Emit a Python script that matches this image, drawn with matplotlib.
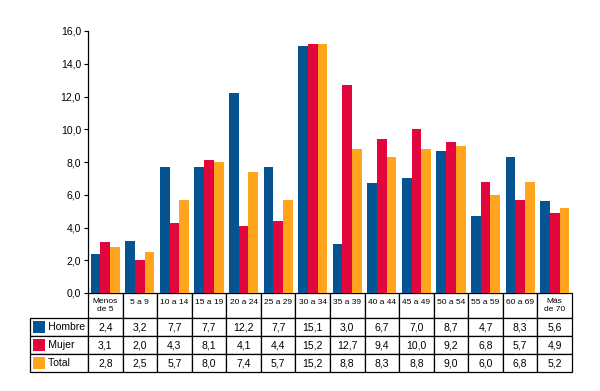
import numpy as np
import matplotlib
matplotlib.use("Agg")
import matplotlib.pyplot as plt
from matplotlib.patches import Rectangle
from matplotlib.table import Table
from matplotlib.ticker import FuncFormatter

plt.rcParams['font.family'] = ['Liberation Sans', 'DejaVu Sans']

categorias = ["Menos\nde 5", "5 a 9", "10 a 14", "15 a 19", "20 a 24", "25 a 29", "30 a 34",
              "35 a 39", "40 a 44", "45 a 49", "50 a 54", "55 a 59", "60 a 69", "Más\nde 70"]
hombre = [2.4, 3.2, 7.7, 7.7, 12.2, 7.7, 15.1, 3.0, 6.7, 7.0, 8.7, 4.7, 8.3, 5.6]
mujer = [3.1, 2.0, 4.3, 8.1, 4.1, 4.4, 15.2, 12.7, 9.4, 10.0, 9.2, 6.8, 5.7, 4.9]
total = [2.8, 2.5, 5.7, 8.0, 7.4, 5.7, 15.2, 8.8, 8.3, 8.8, 9.0, 6.0, 6.8, 5.2]

series = ["Hombre", "Mujer", "Total"]
colores = ["#045493", "#e2063c", "#ffa41c"]

fig = plt.figure(figsize=(6, 3.91), dpi=100)
ax = fig.add_axes([88/600, 1-293/391, 484/600, 262/391])

x = np.arange(len(categorias)) + 0.5
w = 0.28
for k, (vals, c) in enumerate(zip([hombre, mujer, total], colores)):
    ax.bar(x + (k-1)*w, vals, width=w, color=c, linewidth=0)

ax.set_xlim(0, len(categorias))
ax.set_ylim(0, 16)
ax.set_yticks(np.arange(0, 17, 2))
ax.yaxis.set_major_formatter(FuncFormatter(lambda v, p: f"{v:.1f}".replace(".", ",")))
ax.tick_params(axis='y', labelsize=7.5, length=3, width=0.8, pad=2)
ax.set_xticks([])
for s in ['top', 'right', 'bottom']:
    ax.spines[s].set_visible(False)
ax.spines['left'].set_linewidth(0.9)

# tabla de datos (anchos y altos en unidades de ejes)
anc_lab = 58/484
anc_col = 1/len(categorias)
alt_cab = 25/262
alt_fila = 18/262
alto_tabla = alt_cab + 3*alt_fila
tb = Table(ax, bbox=[-anc_lab, -alto_tabla, 1 + anc_lab, alto_tabla])
tb.auto_set_font_size(False)

for j, cat in enumerate(categorias):
    cell = tb.add_cell(0, j + 1, anc_col, alt_cab, text=cat, loc='center')
    t = cell.get_text()
    t.set_fontsize(6)
    t.set_linespacing(1.1)
    t.set_va('center' if "\n" in cat else 'bottom')

for i, (nombre, vals) in enumerate(zip(series, [hombre, mujer, total])):
    cell = tb.add_cell(i + 1, 0, anc_lab, alt_fila, text="      " + nombre, loc='left')
    cell.PAD = 0.02
    cell.get_text().set_fontsize(7.5)
    for j, v in enumerate(vals):
        cell = tb.add_cell(i + 1, j + 1, anc_col, alt_fila,
                           text=f"{v:.1f}".replace(".", ","), loc='center')
        cell.get_text().set_fontsize(7.5)

for cell in tb.get_celld().values():
    cell.set_linewidth(0.9)
    cell.set_edgecolor('black')
ax.add_table(tb)

# cuadrados de color en la leyenda de la tabla
for k, c in enumerate(colores):
    y0 = -alt_cab - (k+1)*alt_fila + 3/262
    ax.add_patch(Rectangle((-anc_lab + 3/484, y0), 12/484, 12/262, transform=ax.transAxes,
                           facecolor=c, edgecolor='none', clip_on=False, zorder=5))

fig.savefig("out.png", dpi=100)
